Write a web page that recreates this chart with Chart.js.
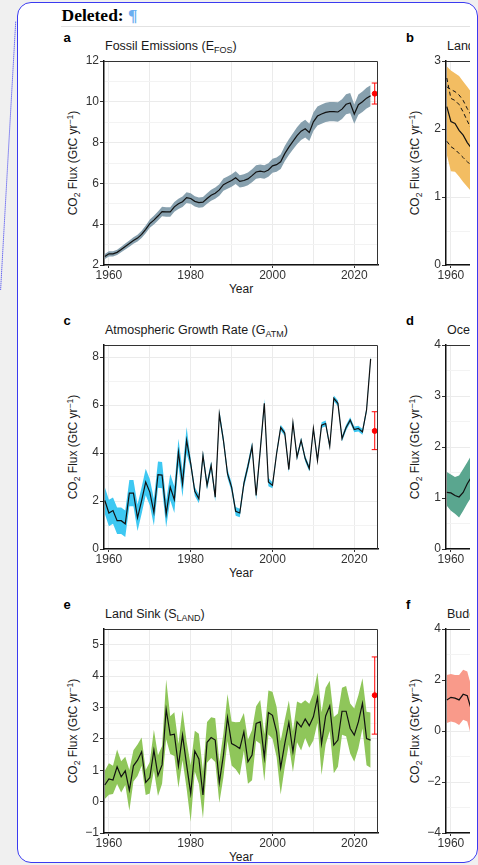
<!DOCTYPE html>
<html>
<head>
<meta charset="utf-8">
<script src="https://cdn.jsdelivr.net/npm/chart.js@4.4.1/dist/chart.umd.min.js"></script>
<style>
  html, body { margin: 0; padding: 0; }
  body { width: 478px; height: 865px; overflow: hidden; background: #f0f0f0; position: relative;
         font-family: "Liberation Sans", Arial, Helvetica, sans-serif; }
  #frame { position: absolute; left: 16.5px; top: 1.5px; width: 461px; height: 861.5px; box-sizing: border-box;
           border: 1.5px solid #3b3bf0; border-radius: 14px; background: #fff; }
  #content { position: absolute; left: 0; top: 0; width: 470px; height: 865px; overflow: hidden; }
  #link { position: absolute; left: 0; top: 0; }
  .del { position: absolute; left: 61.5px; top: 5px; font-family: "Liberation Serif", "Times New Roman", serif;
         font-weight: bold; font-size: 17.5px; line-height: 20px; color: #000; white-space: nowrap; }
  .del span { color: #6aaef0; }
  .rule { position: absolute; left: 61px; top: 26px; width: 409px; height: 1px; background: #e2e2e2; }
  .letter { position: absolute; font-weight: bold; font-size: 13px; line-height: 16px; color: #000; }
  .title { position: absolute; font-size: 12.5px; line-height: 16px; color: #1a1a1a; white-space: nowrap; }
  .ytitle { position: absolute; font-size: 12px; line-height: 14px; color: #1a1a1a; white-space: nowrap;
            transform: translate(-50%, -50%) rotate(-90deg); }
  .xtitle { position: absolute; font-size: 12px; line-height: 16px; color: #1a1a1a; white-space: nowrap;
            transform: translateX(-50%); }
  sub { font-size: 0.72em; vertical-align: -0.3em; line-height: 0; }
  sup { font-size: 0.72em; vertical-align: 0.45em; line-height: 0; }
  canvas { position: absolute; }
</style>
</head>
<body>
<div id="frame"></div>
<svg id="link" width="20" height="300"><line x1="15.7" y1="21.7" x2="0.6" y2="290" stroke="#3030f0" stroke-width="1" stroke-dasharray="1 1"/></svg>
<div id="content">
  <div class="del">Deleted: <span>¶</span></div>
  <div class="rule"></div>

  <div class="letter" style="left:63.5px; top:29.5px">a</div>
  <div class="title" style="left:105px; top:38px">Fossil Emissions (E<sub>FOS</sub>)</div>
  <div class="ytitle" style="left:73.3px; top:163px">CO<sub>2</sub> Flux (GtC yr<sup>−1</sup>)</div>
  <div class="xtitle" style="left:241px; top:281px">Year</div>
  <canvas id="chartA" width="318" height="234" style="left:74px; top:51px"></canvas>

  <div class="letter" style="left:406px; top:29.5px">b</div>
  <div class="title" style="left:447px; top:38px">Land-use Change Emissions (E<sub>LUC</sub>)</div>
  <div class="ytitle" style="left:415.3px; top:163px">CO<sub>2</sub> Flux (GtC yr<sup>−1</sup>)</div>
  <canvas id="chartB" width="318" height="234" style="left:416px; top:51px"></canvas>

  <div class="letter" style="left:63.5px; top:312.7px">c</div>
  <div class="title" style="left:105px; top:322px">Atmospheric Growth Rate (G<sub>ATM</sub>)</div>
  <div class="ytitle" style="left:73.3px; top:447px">CO<sub>2</sub> Flux (GtC yr<sup>−1</sup>)</div>
  <div class="xtitle" style="left:241px; top:565px">Year</div>
  <canvas id="chartC" width="318" height="234" style="left:74px; top:335px"></canvas>

  <div class="letter" style="left:406px; top:312.7px">d</div>
  <div class="title" style="left:447px; top:322px">Ocean Sink (S<sub>OCEAN</sub>)</div>
  <div class="ytitle" style="left:415.3px; top:447px">CO<sub>2</sub> Flux (GtC yr<sup>−1</sup>)</div>
  <canvas id="chartD" width="318" height="234" style="left:416px; top:335px"></canvas>

  <div class="letter" style="left:63.5px; top:597px">e</div>
  <div class="title" style="left:105px; top:606px">Land Sink (S<sub>LAND</sub>)</div>
  <div class="ytitle" style="left:73.3px; top:731px">CO<sub>2</sub> Flux (GtC yr<sup>−1</sup>)</div>
  <div class="xtitle" style="left:241px; top:848.5px">Year</div>
  <canvas id="chartE" width="318" height="234" style="left:74px; top:619px"></canvas>

  <div class="letter" style="left:406px; top:597px">f</div>
  <div class="title" style="left:447px; top:606px">Budget Imbalance (B<sub>IM</sub>)</div>
  <div class="ytitle" style="left:415.3px; top:731px">CO<sub>2</sub> Flux (GtC yr<sup>−1</sup>)</div>
  <canvas id="chartF" width="318" height="234" style="left:416px; top:619px"></canvas>
</div>

<script>
// ---- data (GtC per year) ----
const years = [1959, 1960, 1961, 1962, 1963, 1964, 1965, 1966, 1967, 1968,
  1969, 1970, 1971, 1972, 1973, 1974, 1975, 1976, 1977, 1978,
  1979, 1980, 1981, 1982, 1983, 1984, 1985, 1986, 1987, 1988,
  1989, 1990, 1991, 1992, 1993, 1994, 1995, 1996, 1997, 1998,
  1999, 2000, 2001, 2002, 2003, 2004, 2005, 2006, 2007, 2008,
  2009, 2010, 2011, 2012, 2013, 2014, 2015, 2016, 2017, 2018,
  2019, 2020, 2021, 2022, 2023, 2024];
const earlyYears = [1959, 1960, 1961, 1962, 1963, 1964, 1965, 1966, 1967];

const xGridYears = [1960, 1970, 1980, 1990, 2000, 2010, 2020];
const xLabelYears = [1960, 1980, 2000, 2020];
const projYear = 2025;

// fossil emissions, +-5 % band
const efos = [2.42, 2.55, 2.55, 2.62, 2.76, 2.91, 3.05, 3.20, 3.32, 3.50,
  3.75, 4.03, 4.20, 4.40, 4.62, 4.60, 4.60, 4.85, 5.00, 5.10,
  5.30, 5.26, 5.12, 5.06, 5.08, 5.26, 5.42, 5.52, 5.68, 5.94,
  6.04, 6.14, 6.28, 6.10, 6.14, 6.22, 6.38, 6.56, 6.60, 6.56,
  6.66, 6.86, 6.92, 7.06, 7.46, 7.78, 8.06, 8.34, 8.56, 8.68,
  8.50, 9.02, 9.30, 9.40, 9.48, 9.52, 9.52, 9.50, 9.64, 9.88,
  9.94, 9.40, 9.86, 10.00, 10.18, 10.30];
const efosRelUnc = 0.05;
const efosProj = [10.40, 9.89, 10.92]; // value, low, high

// atmospheric growth rate
const gatm = [2.02, 1.50, 1.60, 1.18, 1.18, 1.05, 2.33, 2.33, 1.30, 2.02,
  2.79, 2.37, 1.53, 3.10, 3.08, 1.46, 2.58, 2.05, 4.04, 2.72,
  4.53, 3.56, 2.40, 2.09, 3.90, 2.65, 3.48, 2.16, 5.62, 4.53,
  3.14, 2.58, 1.57, 1.50, 2.72, 3.45, 4.27, 2.23, 4.10, 6.07,
  2.79, 2.65, 3.97, 5.06, 4.83, 3.31, 5.26, 3.83, 4.53, 3.77,
  3.35, 5.02, 3.69, 5.16, 5.23, 4.28, 6.28, 6.07, 4.60, 5.06,
  5.37, 4.98, 5.02, 4.88, 5.79, 7.92];
const gatmUnc = [0.55, 0.55, 0.55, 0.55, 0.55, 0.55, 0.55, 0.55, 0.55, 0.55,
  0.55, 0.55, 0.55, 0.55, 0.55, 0.55, 0.55, 0.55, 0.55, 0.55,
  0.55, 0.18, 0.18, 0.18, 0.18, 0.18, 0.18, 0.18, 0.18, 0.18,
  0.18, 0.18, 0.18, 0.18, 0.18, 0.18, 0.18, 0.18, 0.18, 0.18,
  0.18, 0.12, 0.12, 0.12, 0.12, 0.12, 0.12, 0.12, 0.12, 0.12,
  0.12, 0.12, 0.12, 0.12, 0.12, 0.12, 0.12, 0.12, 0.12, 0.12,
  0.12, 0.12, 0.12, 0.12, 0.12, 0.12];
const gatmProj = [4.92, 4.14, 5.72];

// land sink
const sland = [0.53, 0.72, 0.69, 1.11, 0.79, 0.98, 0.36, 1.14, 1.32, 1.59,
  0.61, 0.76, 1.64, 0.83, 1.17, 2.94, 2.12, 2.15, 1.14, 2.12,
  1.17, 0.26, 1.61, 1.36, 0.21, 1.89, 2.04, 1.96, 0.61, 1.48,
  2.68, 1.85, 1.78, 1.69, 2.22, 1.27, 1.48, 2.49, 2.54, 1.40,
  2.84, 2.75, 2.22, 1.08, 1.85, 2.52, 1.59, 2.54, 2.38, 2.63,
  2.42, 2.70, 3.31, 1.85, 2.73, 3.05, 1.80, 1.96, 2.88, 2.88,
  2.33, 2.12, 2.54, 3.13, 2.01, 1.96];
const slandUnc = [0.45, 0.50, 0.45, 0.55, 0.50, 0.45, 0.65, 0.50, 0.50, 0.45,
  0.40, 0.50, 0.65, 0.65, 0.60, 0.95, 0.60, 0.70, 0.70, 0.80,
  0.75, 0.90, 0.65, 0.80, 0.75, 0.65, 0.65, 0.70, 0.65, 0.70,
  0.75, 0.70, 0.75, 0.85, 0.60, 0.70, 0.80, 0.55, 0.70, 0.75,
  0.70, 0.75, 0.80, 0.85, 0.75, 0.70, 0.65, 0.65, 0.75, 0.60,
  0.70, 0.75, 0.80, 1.00, 0.90, 0.80, 0.90, 0.85, 0.75, 0.80,
  0.80, 0.85, 0.85, 0.80, 0.85, 0.88];
const slandProj = [3.39, 2.15, 4.61];

// right-hand panels: only their first years are in view
const eluc = [2.33, 2.11, 2.08, 1.98, 1.91, 1.80, 1.72, 1.66, 1.60];
const elucHigh = [2.92, 2.86, 2.82, 2.78, 2.70, 2.62, 2.54, 2.46, 2.40];
const elucLow = [1.62, 1.38, 1.37, 1.30, 1.22, 1.15, 1.08, 1.02, 0.98];
const elucModel1 = [2.75, 2.45, 2.42, 2.36, 2.25, 2.12, 2.00, 1.92, 1.85];
const elucModel2 = [2.62, 2.58, 2.55, 2.50, 2.42, 2.30, 2.20, 2.12, 2.05];
const elucModel3 = [1.82, 1.74, 1.70, 1.64, 1.58, 1.52, 1.46, 1.42, 1.38];

const socean = [1.11, 1.10, 1.05, 1.02, 1.11, 1.28, 1.41, 1.50, 1.55];
const soceanHigh = [1.51, 1.46, 1.41, 1.44, 1.57, 1.70, 1.84, 1.92, 1.98];
const soceanLow = [0.85, 0.75, 0.69, 0.62, 0.75, 0.89, 1.02, 1.10, 1.15];

const bim = [1.22, 1.32, 1.29, 1.22, 1.44, 1.38, 0.83, 0.60, 0.50];
const bimHigh = [2.20, 2.24, 2.20, 2.20, 2.40, 2.33, 1.74, 1.50, 1.40];
const bimLow = [0.31, 0.37, 0.33, 0.24, 0.44, 0.37, -0.22, -0.40, -0.50];

// ---- helpers ----
const xMin = 1958.8, xMax = 2025.8;
const tickFont = { family: '"Liberation Sans", Arial, sans-serif', size: 12 };
const tickColor = '#333';
const clear = 'rgba(0,0,0,0)';

const pts = (xs, ys) => xs.map((x, i) => ({ x: x, y: ys[i] }));

function band(xs, lo, hi, color) {
  return [
    { data: pts(xs, hi), borderWidth: 0, pointRadius: 0, fill: '+1', backgroundColor: color, order: 3 },
    { data: pts(xs, lo), borderWidth: 0, pointRadius: 0, fill: false, order: 3 }
  ];
}

function mainLine(xs, ys) {
  return { data: pts(xs, ys), borderColor: '#111', borderWidth: 1.2, pointRadius: 0, fill: false, order: 1 };
}

function dashed(xs, ys) {
  return { data: pts(xs, ys), borderColor: '#111', borderWidth: 1, borderDash: [4, 3], pointRadius: 0, fill: false, order: 2 };
}

function errorBar(proj) {
  return [
    { data: [{ x: projYear, y: proj[1] }, { x: projYear, y: proj[2] }], borderColor: '#ff0000', borderWidth: 1,
      pointStyle: 'line', pointRadius: 3, pointBorderColor: '#ff0000', pointBorderWidth: 1, fill: false, order: 0 },
    { data: [{ x: projYear, y: proj[0] }], showLine: false, pointRadius: 2.5,
      pointBackgroundColor: '#ff0000', pointBorderColor: '#ff0000', order: 0 }
  ];
}

// top and right edges of the panel box
const panelBox = {
  id: 'panelBox',
  afterDraw(chart) {
    const a = chart.chartArea, ctx = chart.ctx;
    ctx.save();
    ctx.strokeStyle = '#333';
    ctx.lineWidth = 1;
    ctx.beginPath();
    ctx.moveTo(a.left, a.top + 0.5);
    ctx.lineTo(a.right - 0.5, a.top + 0.5);
    ctx.lineTo(a.right - 0.5, a.bottom);
    ctx.stroke();
    ctx.restore();
  }
};

function panel(id, yMin, yMax, yLabels, yMinor, datasets) {
  const yAll = yLabels.concat(yMinor).sort((p, q) => p - q);
  new Chart(document.getElementById(id), {
    type: 'line',
    data: { datasets: datasets },
    options: {
      responsive: false,
      animation: false,
      devicePixelRatio: 1,
      layout: { padding: { top: 10, right: 14, bottom: 0, left: 0 } },
      plugins: { legend: { display: false }, tooltip: { enabled: false } },
      elements: { line: { tension: 0 } },
      scales: {
        x: {
          type: 'linear', min: xMin, max: xMax,
          afterBuildTicks: s => { s.ticks = xGridYears.map(v => ({ value: v })); },
          afterFit: s => { s.height = 20; },
          ticks: { autoSkip: false, maxRotation: 0, padding: 0, color: tickColor, font: tickFont,
                   callback: v => xLabelYears.includes(v) ? String(v) : '' },
          grid: { color: '#ebebeb', lineWidth: 1, tickLength: 3,
                  tickColor: c => (c.tick && xLabelYears.includes(c.tick.value)) ? '#333' : clear },
          border: { color: '#111', width: 1.5 }
        },
        y: {
          type: 'linear', min: yMin, max: yMax,
          afterBuildTicks: s => { s.ticks = yAll.map(v => ({ value: v })); },
          afterFit: s => { s.width = 30; },
          ticks: { autoSkip: false, padding: 1, color: tickColor, font: tickFont,
                   callback: v => yLabels.includes(v) ? String(v).replace('-', '\u2212') : '' },
          grid: { color: c => (c.tick && yLabels.includes(c.tick.value)) ? '#ebebeb' : '#f3f3f3',
                  lineWidth: 1, tickLength: 4,
                  tickColor: c => (c.tick && yLabels.includes(c.tick.value)) ? '#333' : clear },
          border: { color: '#111', width: 1.5 }
        }
      }
    },
    plugins: [panelBox]
  });
}

// a: fossil emissions
panel('chartA', 2, 12, [2, 4, 6, 8, 10, 12], [3, 5, 7, 9, 11], [
  mainLine(years, efos),
  ...errorBar(efosProj),
  ...band(years, efos.map(v => v * (1 - efosRelUnc)), efos.map(v => v * (1 + efosRelUnc)), '#87a0ae')
]);

// b: land-use change emissions
panel('chartB', 0, 3, [0, 1, 2, 3], [0.5, 1.5, 2.5], [
  mainLine(earlyYears, eluc),
  dashed(earlyYears, elucModel1),
  dashed(earlyYears, elucModel2),
  dashed(earlyYears, elucModel3),
  ...band(earlyYears, elucLow, elucHigh, '#f3bd62')
]);

// c: atmospheric growth rate
panel('chartC', 0, 8.5, [0, 2, 4, 6, 8], [1, 3, 5, 7], [
  mainLine(years, gatm),
  ...errorBar(gatmProj),
  ...band(years, gatm.map((v, i) => v - gatmUnc[i]), gatm.map((v, i) => v + gatmUnc[i]), '#3ec8f2')
]);

// d: ocean sink
panel('chartD', 0, 4, [0, 1, 2, 3, 4], [0.5, 1.5, 2.5, 3.5], [
  mainLine(earlyYears, socean),
  ...band(earlyYears, soceanLow, soceanHigh, '#5aa68f')
]);

// e: land sink
panel('chartE', -1, 5.5, [-1, 0, 1, 2, 3, 4, 5], [-0.5, 0.5, 1.5, 2.5, 3.5, 4.5], [
  mainLine(years, sland),
  ...errorBar(slandProj),
  ...band(years, sland.map((v, i) => v - slandUnc[i]), sland.map((v, i) => v + slandUnc[i]), '#8fc65a')
]);

// f: budget imbalance
panel('chartF', -4, 4, [-4, -2, 0, 2, 4], [-3, -1, 1, 3], [
  mainLine(earlyYears, bim),
  ...band(earlyYears, bimLow, bimHigh, '#f99a8a')
]);
</script>
</body>
</html>
